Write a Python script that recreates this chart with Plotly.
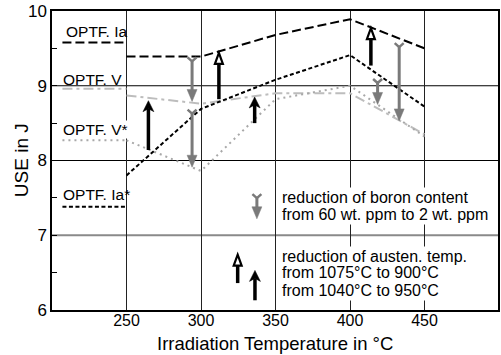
import plotly.graph_objects as go

# ---------------- data ----------------
TEMPS = [250, 300, 350, 400, 450]
USE_IA = [9.39, 9.39, 9.68, 9.89, 9.50]
USE_V = [8.87, 8.76, 8.90, 8.90, 8.35]
USE_VS = [8.27, 7.86, 8.82, 9.00, 8.32]
USE_IAS = [7.80, 8.69, 9.08, 9.41, 8.72]

SERIES_NAMES = ["OPTF. Ia", "OPTF. V", "OPTF. V*", "OPTF. Ia*"]
KEY_X = [207, 250]
KEY_LEVELS = [9.58, 8.96, 8.27, 7.38]

# boron reduction arrows (grey): x, from, to
BORON_X = [294, 294, 418.5, 433]
BORON_FROM = [9.38, 8.68, 9.09, 9.57]
BORON_TO = [8.79, 7.91, 8.75, 8.53]
# austenitisation 1075->900 (hollow head)
AUST1_X = [312, 414]
AUST1_FROM = [8.82, 9.27]
AUST1_TO = [9.44, 9.77]
# austenitisation 1040->950 (solid head)
AUST2_X = [264.7, 336]
AUST2_FROM = [8.14, 8.50]
AUST2_TO = [8.80, 8.85]

# key arrows
KEY_BORON = [337.5, 7.55, 7.22]
KEY_AUST1 = [324.6, 6.36, 6.74]
KEY_AUST2 = [336.2, 6.13, 6.53]

BORON_TEXT = ["reduction of boron content", "from 60 wt. ppm to 2 wt. ppm"]
AUST_TEXT = ["reduction of austen. temp.", "from 1075°C to 900°C", "from 1040°C to 950°C"]

TICK_X = [250, 300, 350, 400, 450]
TICK_Y = [6, 7, 8, 9, 10]
GRID_Y = [7, 8, 9]
MINOR_Y = [6.5, 7.5, 8.5, 9.5]
X_TITLE = "Irradiation Temperature in °C"
Y_TITLE = "USE in J"

# ---------------- layout geometry ----------------
W, H = 501, 355
ML, MR, MT, MB = 52, 1, 11, 45
X0, X1 = 200, 499.3
Y0, Y1 = 6, 10
PW, PH = W - ML - MR, H - MT - MB
KX = PW / (X1 - X0)
KY = PH / (Y1 - Y0)


def dx(p):
    return p / KX


def dy(p):
    return p / KY


FONT = "Liberation Sans, Arial, sans-serif"
GREY = "#7a7a7a"

fig = go.Figure()

styles = [
    dict(color="black", width=2, dash="9px,4px"),
    dict(color="#bdbdbd", width=2, dash="10px,4px,3px,4px"),
    dict(color="#a8a8a8", width=2, dash="2px,4px"),
    dict(color="black", width=2, dash="4px,2.5px"),
]
series = [USE_IA, USE_V, USE_VS, USE_IAS]
for name, vals, lvl, st in zip(SERIES_NAMES, series, KEY_LEVELS, styles):
    fig.add_trace(go.Scatter(x=TEMPS, y=vals, mode="lines", line=st, name=name,
                             showlegend=False, hoverinfo="skip"))
    fig.add_trace(go.Scatter(x=KEY_X, y=[lvl, lvl], mode="lines", line=st,
                             showlegend=False, hoverinfo="skip"))

shapes = []

# horizontal grid lines (the one at 7 is grey and heavier)
for gy in GRID_Y:
    grey = gy == 7
    shapes.append(dict(type="line", xref="paper", yref="y", x0=0, x1=1, y0=gy, y1=gy,
                       line=dict(color="#8a8a8a" if grey else "black", width=2 if grey else 1),
                       layer="below"))


def grey_down(x, ytop, ytip):
    hh, hw, fw, fh = 12, 5, 4.5, 4
    shapes.append(dict(type="line", xref="x", yref="y", x0=x, x1=x,
                       y0=ytop - dy(fh), y1=ytip + dy(hh - 1),
                       line=dict(color=GREY, width=3)))
    shapes.append(dict(type="path", xref="x", yref="y",
                       path=f"M{x - dx(fw)},{ytop} L{x},{ytop - dy(fh)} L{x + dx(fw)},{ytop}",
                       line=dict(color=GREY, width=2.5)))
    shapes.append(dict(type="path", xref="x", yref="y",
                       path=f"M{x},{ytip} L{x - dx(hw)},{ytip + dy(hh)} L{x + dx(hw)},{ytip + dy(hh)} Z",
                       fillcolor=GREY, line=dict(color=GREY, width=0.5)))


def solid_up(x, yb, yt):
    hh, hw, notch = 11, 5.5, 3
    shapes.append(dict(type="line", xref="x", yref="y", x0=x, x1=x,
                       y0=yb, y1=yt - dy(hh - notch),
                       line=dict(color="black", width=3.5)))
    shapes.append(dict(type="path", xref="x", yref="y",
                       path=(f"M{x},{yt} L{x + dx(hw)},{yt - dy(hh)} L{x},{yt - dy(hh - notch)} "
                             f"L{x - dx(hw)},{yt - dy(hh)} Z"),
                       fillcolor="black", line=dict(color="black", width=0.5)))


def hollow_up(x, yb, yt):
    hh, hw = 11, 4
    shapes.append(dict(type="line", xref="x", yref="y", x0=x, x1=x,
                       y0=yb, y1=yt - dy(hh),
                       line=dict(color="black", width=3.5)))
    shapes.append(dict(type="path", xref="x", yref="y",
                       path=f"M{x},{yt} L{x + dx(hw)},{yt - dy(hh)} L{x - dx(hw)},{yt - dy(hh)} Z",
                       fillcolor="white", line=dict(color="black", width=2.2)))


for x, a, b in zip(BORON_X, BORON_FROM, BORON_TO):
    grey_down(x, a, b)
for x, a, b in zip(AUST1_X, AUST1_FROM, AUST1_TO):
    hollow_up(x, a, b)
for x, a, b in zip(AUST2_X, AUST2_FROM, AUST2_TO):
    solid_up(x, a, b)
grey_down(*KEY_BORON)
hollow_up(*KEY_AUST1)
solid_up(*KEY_AUST2)

annotations = []
LABEL_POS = [(209.0, 9.73), (206.8, 9.08), (206.8, 8.42), (206.8, 7.55)]
for i, (name, (lx, ly)) in enumerate(zip(SERIES_NAMES, LABEL_POS)):
    annotations.append(dict(x=lx, y=ly, xref="x", yref="y", text=name, showarrow=False,
                            xanchor="left", yanchor="middle",
                            font=dict(family=FONT, size=15.5, color="black"),
                            bgcolor="white" if i == 2 else None, borderpad=0))

TEXT_X = 353.0
for txt, ty in zip(BORON_TEXT, [7.50, 7.275]):
    annotations.append(dict(x=TEXT_X, y=ty, xref="x", yref="y", text=txt, showarrow=False,
                            xanchor="left", yanchor="middle",
                            font=dict(family=FONT, size=16, color="black"),
                            bgcolor="white", borderpad=1))
for txt, ty in zip(AUST_TEXT, [6.715, 6.50, 6.26]):
    annotations.append(dict(x=TEXT_X, y=ty, xref="x", yref="y", text=txt, showarrow=False,
                            xanchor="left", yanchor="middle",
                            font=dict(family=FONT, size=16, color="black"),
                            bgcolor="white", borderpad=1))

# axis titles
annotations.append(dict(x=(276 - ML) / PW, y=-(H - MT - PH) / PH, xref="paper", yref="paper",
                        text=X_TITLE, showarrow=False, xanchor="center", yanchor="bottom",
                        borderpad=0, font=dict(family=FONT, size=18.5, color="black")))
annotations.append(dict(x=(21.5 - ML) / PW, y=0.5, xref="paper", yref="paper",
                        text=Y_TITLE, showarrow=False, xanchor="center", yanchor="middle",
                        textangle=-90, font=dict(family=FONT, size=19, color="black")))

fig.update_layout(
    width=W, height=H,
    margin=dict(l=ML, r=MR, t=MT, b=MB, pad=0),
    plot_bgcolor="white", paper_bgcolor="white",
    font=dict(family=FONT, color="black"),
    shapes=shapes, annotations=annotations,
    showlegend=False,
)
fig.update_xaxes(range=[X0, X1], tickvals=TICK_X, showgrid=True, gridcolor="#222",
                 gridwidth=1, showline=True, linecolor="black", linewidth=1.5, mirror=True,
                 ticks="", zeroline=False, tickfont=dict(size=16, family=FONT),
                 ticklabelstandoff=-5)
fig.update_yaxes(range=[Y0, Y1], tickvals=TICK_Y, showgrid=False,
                 showline=True, linecolor="black", linewidth=1.5, mirror=True,
                 ticks="inside", ticklen=5, tickcolor="black", zeroline=False,
                 minor=dict(tickvals=MINOR_Y, ticks="inside", ticklen=5, tickcolor="black",
                            showgrid=False),
                 tickfont=dict(size=17, family=FONT))

fig.write_html("out.html")
